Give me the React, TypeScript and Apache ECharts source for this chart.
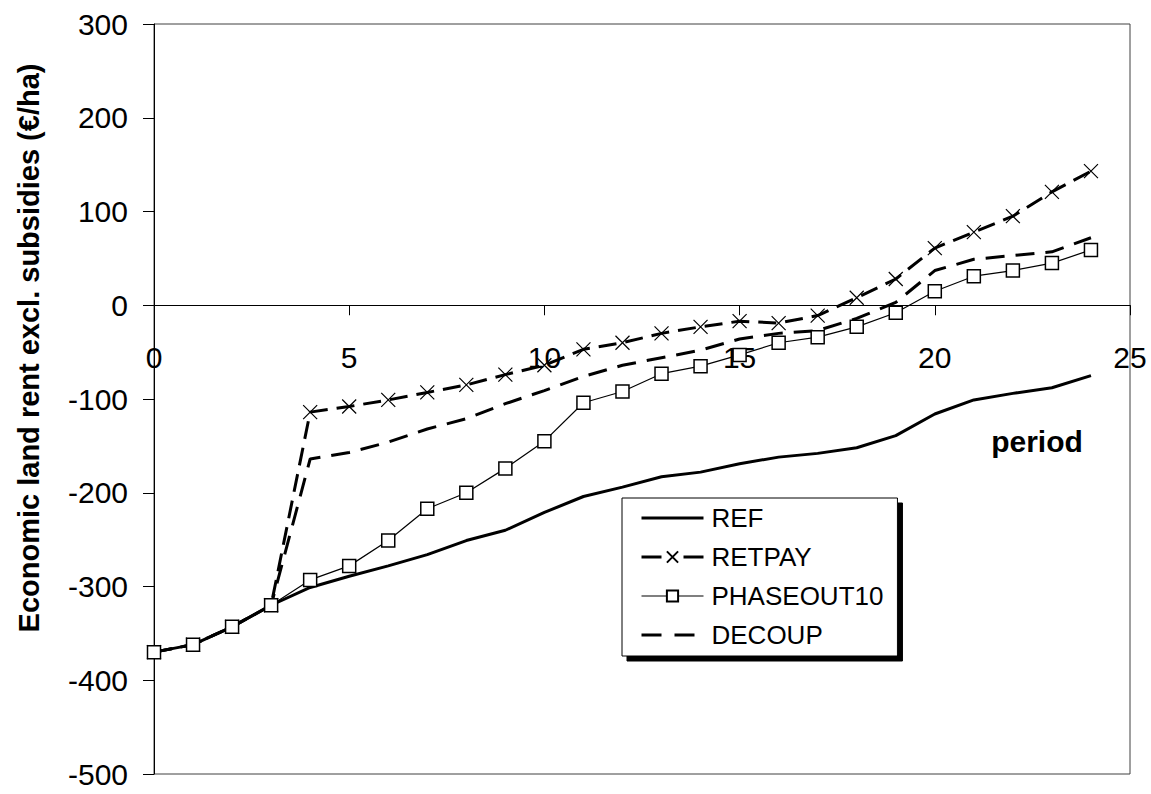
import React, { useEffect, useRef } from "react";
import * as echarts from "echarts";

const periods = [0, 1, 2, 3, 4, 5, 6, 7, 8, 9, 10, 11, 12, 13, 14, 15, 16, 17, 18, 19, 20, 21, 22, 23, 24];
const refValues = [-370, -362, -343, -320, -301, -289, -278, -266, -251, -240, -221, -204, -194, -183, -178, -169, -162, -158, -152, -139, -116, -101, -94, -88, -75];
const retpayValues = [-370, -362, -343, -320, -114, -108, -101, -93, -85, -74, -64, -47, -40, -30, -23, -17, -19, -11, 8, 28, 61, 78, 95, 121, 143];
const phaseoutValues = [-370, -362, -343, -320, -293, -278, -251, -217, -200, -174, -145, -104, -92, -73, -65, -53, -40, -34, -23, -8, 15, 31, 37, 45, 59];
const decoupValues = [-370, -362, -343, -320, -164, -157, -146, -132, -121, -105, -91, -76, -64, -56, -48, -36, -30, -27, -14, 3, 37, 49, 53, 57, 72];
const seriesNames = ["REF", "RETPAY", "PHASEOUT10", "DECOUP"];
const yAxisTitle = "Economic land rent excl. subsidies (€/ha)";
const xAxisTitle = "period";

const FONT = "'Liberation Sans', Arial, sans-serif";

const GRID_TOP = 24;
const GRID_BOTTOM = 20;
const GRID_H = 794 - GRID_TOP - GRID_BOTTOM;
const Y_MIN = -500;
const Y_MAX = 300;
// distance (px) from the grid bottom up to the y = 0 line
const ZERO_OFFSET = (GRID_H * (0 - Y_MIN)) / (Y_MAX - Y_MIN);

function pairs(vals: number[]) {
  return periods.map((p, i) => [p, vals[i]]);
}

export default function App() {
  const ref = useRef<HTMLDivElement>(null);
  useEffect(() => {
    if (!ref.current) return;
    const chart = echarts.init(ref.current, undefined, { renderer: "svg" });
    chart.setOption({
      animation: false,
      backgroundColor: "#fff",
      grid: {
        left: 154,
        right: 21,
        top: GRID_TOP,
        bottom: GRID_BOTTOM,
        show: true,
        borderColor: "#404040",
        borderWidth: 1,
        backgroundColor: "transparent",
      },
      xAxis: {
        type: "value",
        min: 0,
        max: 25,
        interval: 5,
        position: "bottom",
        offset: -ZERO_OFFSET,
        axisLine: { onZero: false, lineStyle: { color: "#000", width: 1 } },
        axisTick: { show: true, length: 10, lineStyle: { color: "#000" } },
        axisLabel: { color: "#000", fontFamily: FONT, fontSize: 30, margin: 37 },
        splitLine: { show: false },
      },
      yAxis: {
        type: "value",
        min: Y_MIN,
        max: Y_MAX,
        interval: 100,
        axisLine: { show: true, onZero: false, lineStyle: { color: "#000", width: 1 } },
        axisTick: { show: true, length: 11, lineStyle: { color: "#000" } },
        axisLabel: { color: "#000", fontFamily: FONT, fontSize: 30, margin: 26 },
        splitLine: { show: false },
      },
      legend: {
        orient: "vertical",
        left: 622,
        top: 498,
        data: [
          { name: seriesNames[0], itemStyle: { opacity: 0 }, lineStyle: { width: 3 } },
          { name: seriesNames[1], lineStyle: { type: [20, 22], width: 3 } },
          { name: seriesNames[2], lineStyle: { width: 1.2 } },
          { name: seriesNames[3], itemStyle: { opacity: 0 }, lineStyle: { type: [20, 13], width: 3 } },
        ],
        itemWidth: 62,
        itemHeight: 14,
        itemGap: 13,
        padding: [7, 14, 8, 18],
        backgroundColor: "#fff",
        borderColor: "#000",
        borderWidth: 1,
        shadowColor: "#000",
        shadowBlur: 0,
        shadowOffsetX: 5,
        shadowOffsetY: 5,
        textStyle: { color: "#000", fontFamily: FONT, fontSize: 26, lineHeight: 26, padding: [0, 0, 0, 3] },
      },
      graphic: [
        {
          type: "text",
          x: 29,
          y: 348,
          rotation: Math.PI / 2,
          style: {
            text: yAxisTitle,
            font: `bold 29px ${FONT}`,
            fill: "#000",
            textAlign: "center",
            textVerticalAlign: "middle",
          },
        },
        {
          type: "text",
          x: 1037,
          y: 441,
          style: {
            text: xAxisTitle,
            font: `bold 30px ${FONT}`,
            fill: "#000",
            textAlign: "center",
            textVerticalAlign: "middle",
          },
        },
      ],
      series: [
        {
          name: seriesNames[0],
          type: "line",
          data: pairs(refValues),
          symbol: "none",
          lineStyle: { color: "#000", width: 3 },
          itemStyle: { color: "#000" },
          z: 2,
        },
        {
          name: seriesNames[1],
          type: "line",
          data: pairs(retpayValues),
          symbol: "path://M0,0L10,10M10,0L0,10",
          symbolSize: 14,
          showSymbol: true,
          lineStyle: { color: "#000", width: 3, type: [18, 9] },
          itemStyle: { color: "#000", borderColor: "#000", borderWidth: 1.2 },
          z: 3,
        },
        {
          name: seriesNames[2],
          type: "line",
          data: pairs(phaseoutValues),
          symbol: "rect",
          symbolSize: 13,
          showSymbol: true,
          lineStyle: { color: "#000", width: 1.2 },
          itemStyle: { color: "#fff", borderColor: "#000", borderWidth: 1.5 },
          z: 5,
        },
        {
          name: seriesNames[3],
          type: "line",
          data: pairs(decoupValues),
          symbol: "none",
          lineStyle: { color: "#000", width: 3, type: [19, 11] },
          itemStyle: { color: "#000" },
          z: 2,
        },
      ],
    });
    return () => chart.dispose();
  }, []);
  return <div ref={ref} style={{ width: 1151, height: 794, position: "absolute", left: 0, top: 0 }} />;
}
